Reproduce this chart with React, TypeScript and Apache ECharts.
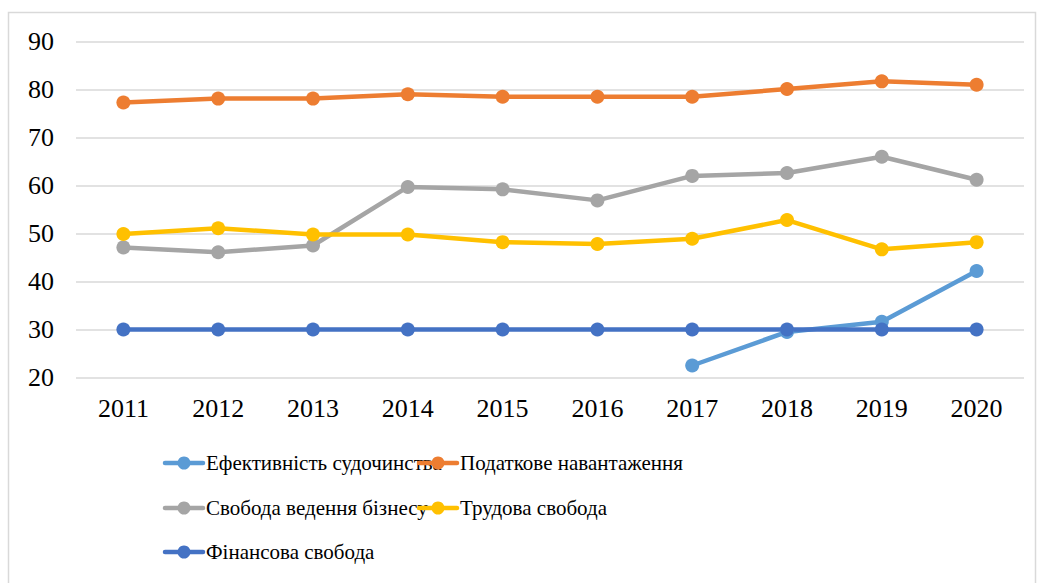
import React, { useEffect, useRef } from "react";
import * as echarts from "echarts";

const years = ["2011", "2012", "2013", "2014", "2015", "2016", "2017", "2018", "2019", "2020"];
const seriesNames = [
  "Ефективність судочинства",
  "Податкове навантаження",
  "Свобода ведення бізнесу",
  "Трудова свобода",
  "Фінансова свобода",
];
const judicial = [null, null, null, null, null, null, 22.5, 29.5, 31.6, 42.2];
const taxBurden = [77.3, 78.1, 78.1, 79.0, 78.5, 78.5, 78.5, 80.1, 81.7, 81.0];
const business = [47.1, 46.1, 47.5, 59.7, 59.2, 56.9, 62.0, 62.6, 66.0, 61.2];
const labor = [49.9, 51.1, 49.8, 49.8, 48.2, 47.8, 48.9, 52.8, 46.7, 48.2];
const financial = [30, 30, 30, 30, 30, 30, 30, 30, 30, 30];
const colors = ["#5B9BD5", "#ED7D31", "#A5A5A5", "#FFC000", "#4472C4"];
const values = [judicial, taxBurden, business, labor, financial];

const FONT = "Liberation Serif";

export default function App() {
  const ref = useRef<HTMLDivElement>(null);
  useEffect(() => {
    if (!ref.current) return;
    const chart = echarts.init(ref.current, null, { renderer: "svg" });
    const legendPos = [
      { x: 165, y: 463 },
      { x: 419, y: 463 },
      { x: 165, y: 508 },
      { x: 419, y: 508 },
      { x: 165, y: 552 },
    ];
    const legendGraphics = seriesNames.map((n, i) => ({
      type: "group",
      x: legendPos[i].x,
      y: legendPos[i].y,
      silent: true,
      children: [
        {
          type: "line",
          shape: { x1: 0, y1: 0, x2: 38, y2: 0 },
          style: { stroke: colors[i], lineWidth: 4.5, lineCap: "round" },
        },
        {
          type: "circle",
          shape: { cx: 19, cy: 0, r: 6.5 },
          style: { fill: colors[i] },
        },
        {
          type: "text",
          x: 41,
          y: 0,
          style: {
            text: n,
            font: "21px 'Times New Roman', 'Liberation Serif', serif",
            fill: "#000",
            verticalAlign: "middle",
            align: "left",
          },
        },
      ],
    }));
    chart.setOption({
      animation: false,
      backgroundColor: "#ffffff",
      color: colors,
      textStyle: { fontFamily: FONT },
      graphic: [
        {
          type: "rect",
          shape: { x: 8.5, y: 12.5, width: 1027, height: 580 },
          style: { fill: "none", stroke: "#d9d9d9", lineWidth: 1.5 },
          silent: true,
        },
        ...legendGraphics,
      ],
      legend: { show: false, data: seriesNames },
      grid: { left: 76, right: 18, top: 41.5, bottom: 205.5, containLabel: false },
      xAxis: {
        type: "category",
        data: years,
        boundaryGap: true,
        axisLine: { show: false },
        axisTick: { show: false },
        axisLabel: { fontFamily: FONT, fontSize: 26, color: "#000", margin: 18 },
      },
      yAxis: {
        type: "value",
        min: 20,
        max: 90,
        interval: 10,
        axisLine: { show: false },
        axisTick: { show: false },
        axisLabel: { fontFamily: FONT, fontSize: 26, color: "#000", margin: 22 },
        splitLine: { lineStyle: { color: "#d9d9d9", width: 1.5 } },
      },
      series: seriesNames.map((n, i) => ({
        name: n,
        type: "line",
        data: values[i],
        symbol: "circle",
        symbolSize: 14,
        lineStyle: { width: 4.5, color: colors[i] },
        itemStyle: { color: colors[i] },
      })),
    });
    return () => chart.dispose();
  }, []);
  return (
    <div
      ref={ref}
      style={{ position: "fixed", left: 0, top: 0, width: 1042, height: 583 }}
    />
  );
}
